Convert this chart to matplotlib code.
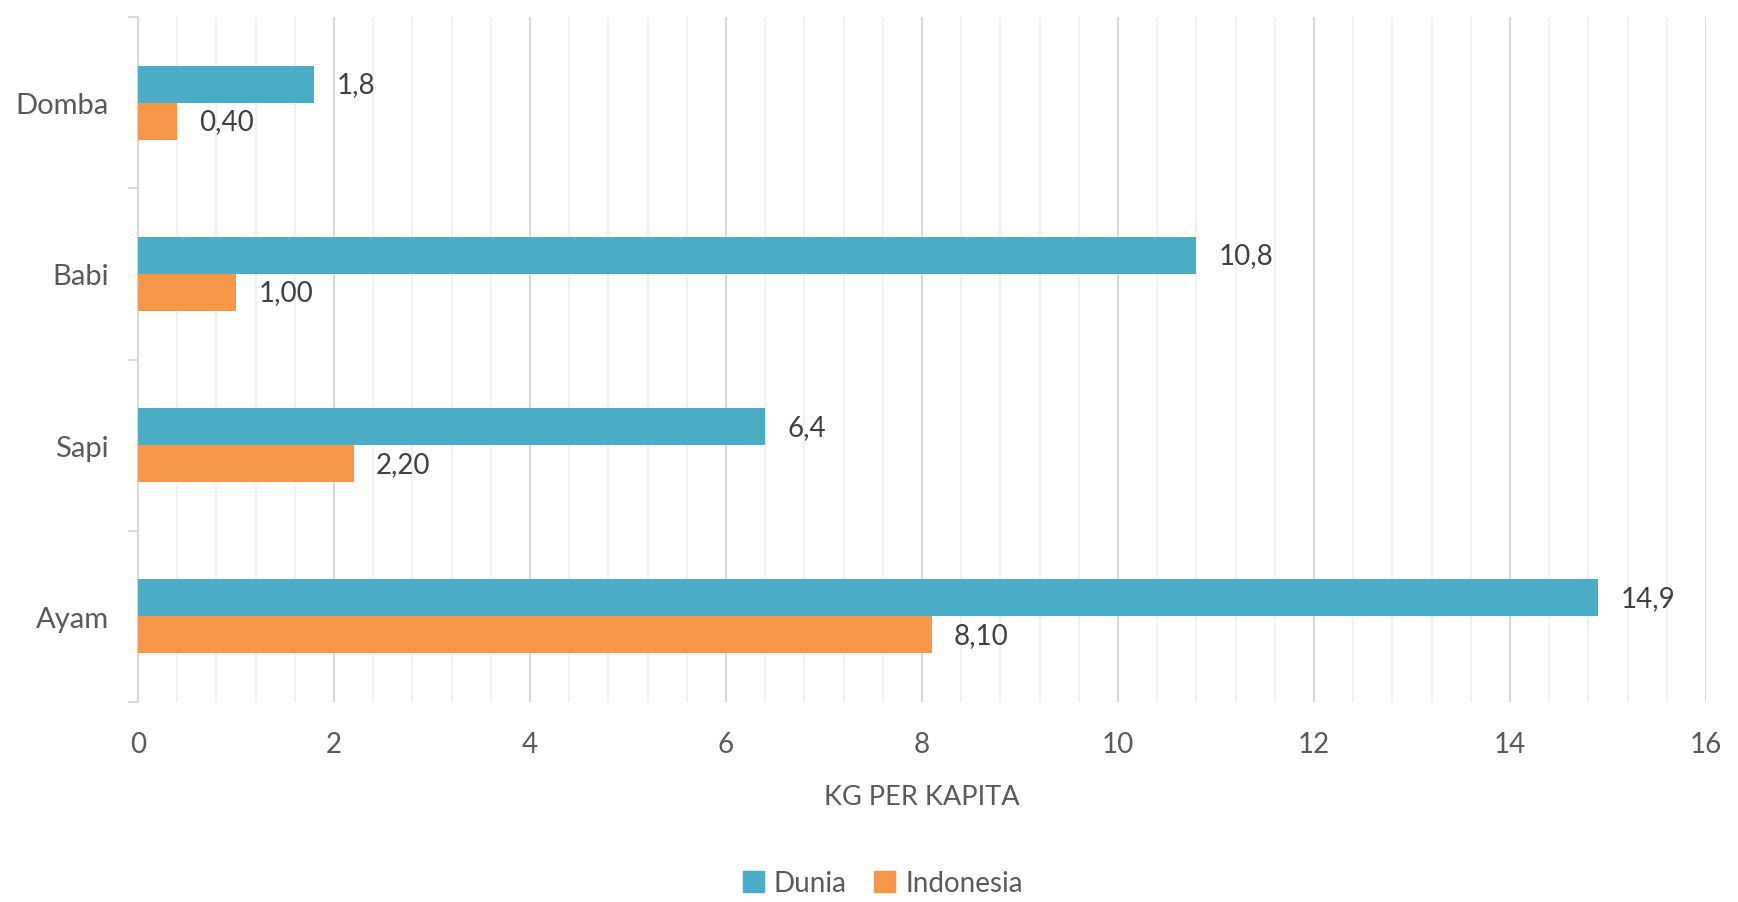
import matplotlib
matplotlib.use("Agg")
import matplotlib.pyplot as plt
import numpy as np
from matplotlib.ticker import MultipleLocator, FixedLocator, NullFormatter
from matplotlib.patches import Patch

categories = ["Ayam", "Sapi", "Babi", "Domba"]
dunia = [14.9, 6.4, 10.8, 1.8]
indonesia = [8.10, 2.20, 1.00, 0.40]
xticks = [0, 2, 4, 6, 8, 10, 12, 14, 16]

C_DUNIA = "#4BACC6"
C_INDO = "#F79646"
TXT = "#595959"
LBL = "#404040"

plt.rcParams['font.family'] = ['Lato', 'DejaVu Sans']

fig = plt.figure(figsize=(17.38, 9.03), dpi=100)
ax = fig.add_axes([0.0794, 0.2215, 0.9022, 0.7585])

y = np.arange(len(categories))
h = 0.216
b1 = ax.barh(y + h / 2, dunia, height=h, color=C_DUNIA, zorder=3)
b2 = ax.barh(y - h / 2, indonesia, height=h, color=C_INDO, zorder=3)

for rect, v in zip(b1, dunia):
    ax.annotate(f"{v:.1f}".replace(".", ","), (v, rect.get_y() + rect.get_height() / 2),
                xytext=(16, 0), textcoords="offset points", va="center", ha="left",
                fontsize=20, color=LBL)
for rect, v in zip(b2, indonesia):
    ax.annotate(f"{v:.2f}".replace(".", ","), (v, rect.get_y() + rect.get_height() / 2),
                xytext=(16, 0), textcoords="offset points", va="center", ha="left",
                fontsize=20, color=LBL)

ax.set_xlim(0, 16)
ax.set_ylim(-0.5, len(categories) - 0.5)

ax.xaxis.set_major_locator(FixedLocator(xticks))
ax.xaxis.set_minor_locator(MultipleLocator(0.4))
ax.grid(axis="x", which="major", color="#D9D9D9", linewidth=1.5, zorder=0)
ax.grid(axis="x", which="minor", color="#F0F0F0", linewidth=1.3, zorder=0)
ax.tick_params(axis="x", which="both", length=0, pad=21, labelsize=20, labelcolor=TXT)

ax.yaxis.set_major_locator(FixedLocator(np.arange(-0.5, len(categories), 1.0)))
ax.yaxis.set_major_formatter(NullFormatter())
ax.yaxis.set_minor_locator(FixedLocator(y))
ax.set_yticklabels(categories, minor=True)
ax.tick_params(axis="y", which="major", length=7, width=1.5, color="#D9D9D9")
ax.tick_params(axis="y", which="minor", length=0, pad=21, labelsize=21, labelcolor=TXT)

for s in ["top", "right", "bottom"]:
    ax.spines[s].set_visible(False)
ax.spines["left"].set_color("#D9D9D9")
ax.spines["left"].set_linewidth(1.5)

ax.set_xlabel("KG PER KAPITA", fontsize=19.5, color=TXT, labelpad=19)

handles = [Patch(color=C_DUNIA, label="Dunia"), Patch(color=C_INDO, label="Indonesia")]
fig.legend(handles=handles, loc="center", bbox_to_anchor=(0.508, 0.021), ncol=2,
           frameon=False, fontsize=20, labelcolor=TXT, handlelength=0.75, handleheight=0.75,
           handletextpad=0.35, columnspacing=1.0)

fig.savefig("out.png", dpi=100)
